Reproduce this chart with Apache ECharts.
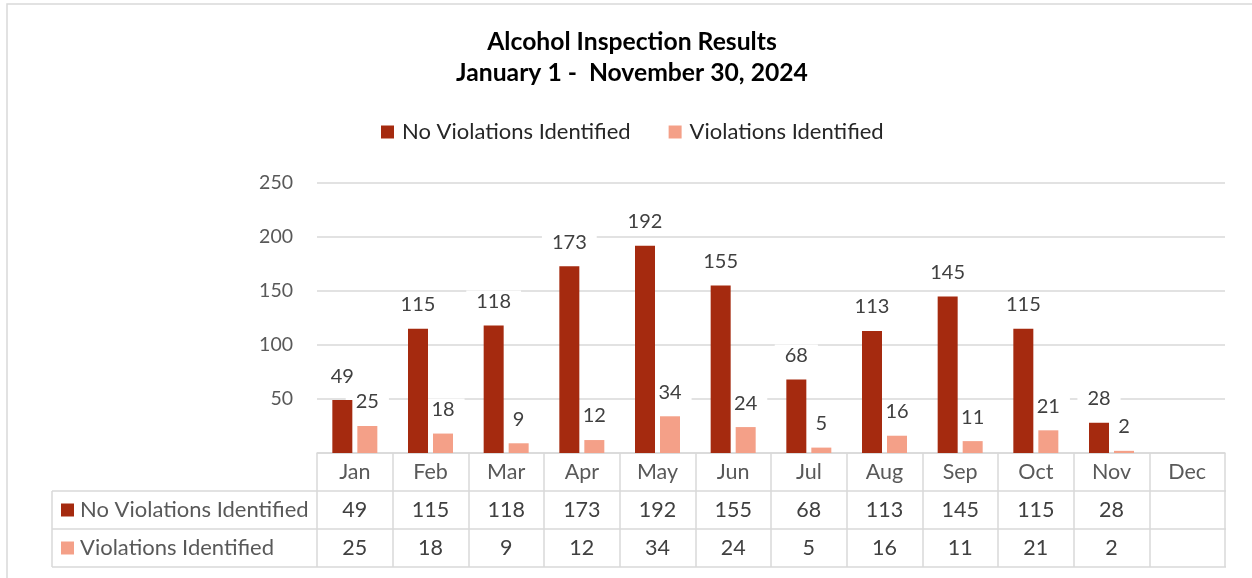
<!DOCTYPE html>
<html>
<head>
<meta charset="utf-8">
<script src="https://cdn.jsdelivr.net/npm/echarts@6/dist/echarts.min.js"></script>
<style>
  html, body { margin: 0; padding: 0; background: #fff; }
  #chart { width: 1252px; height: 578px; }
</style>
</head>
<body>
<div id="chart"></div>
<script>
// 数据
const months = ['Jan', 'Feb', 'Mar', 'Apr', 'May', 'Jun', 'Jul', 'Aug', 'Sep', 'Oct', 'Nov', 'Dec'];
const noViolations = [49, 115, 118, 173, 192, 155, 68, 113, 145, 115, 28, null];
const violations = [25, 18, 9, 12, 34, 24, 5, 16, 11, 21, 2, null];
const seriesNames = ['No Violations Identified', 'Violations Identified'];
const seriesColors = ['#A52A0F', '#F4A088'];
const yTicks = { min: 0, max: 250, interval: 50 };

const FONT = 'Lato';
const GRID = { left: 317, right: 27, top: 183, bottom: 125 };
const ROW_H = 38;
const TABLE_FS = 22;
const gray = '#d9d9d9';

const rowText = arr => arr.map(v => (v == null ? '' : String(v)));

const chart = echarts.init(document.getElementById('chart'));

const barLabel = {
  show: true, position: 'top', distance: 13,
  color: '#404040', fontFamily: FONT, fontSize: 20,
  backgroundColor: '#fff', padding: [1, 10, 1, 10]
};

// 表格边框和左侧图例列
const tableTop = 578 - GRID.bottom;
const leftX = 52;
const rightX = 1252 - GRID.right + 1;
const graphics = [
  { type: 'rect', shape: { x: 7, y: 4, width: 1300, height: 700 }, style: { fill: 'none', stroke: gray, lineWidth: 1.5 }, silent: true }
];
[1, 2, 3].forEach(i => {
  graphics.push({ type: 'line', shape: { x1: leftX, y1: tableTop + i * ROW_H, x2: rightX, y2: tableTop + i * ROW_H }, style: { stroke: gray, lineWidth: 1.5 } });
});
graphics.push({ type: 'line', shape: { x1: leftX, y1: tableTop + ROW_H, x2: leftX, y2: tableTop + 3 * ROW_H }, style: { stroke: gray, lineWidth: 1.5 } });
seriesNames.forEach((name, i) => {
  const cy = tableTop + ROW_H * (i + 1.5);
  graphics.push({ type: 'rect', shape: { x: 61, y: cy - 6.5, width: 13, height: 13 }, style: { fill: seriesColors[i] } });
  graphics.push({ type: 'text', x: 80, y: cy, style: { text: name, fill: '#595959', font: `${TABLE_FS}px ${FONT}`, textVerticalAlign: 'middle' } });
});

const rowAxis = (data, offset, color) => ({
  type: 'category', data, position: 'bottom', offset,
  axisLine: { show: offset === 0, lineStyle: { color: gray, width: 1.5 } },
  axisTick: { show: offset === 0, interval: 0, length: ROW_H * 3, lineStyle: { color: gray, width: 1.5 } },
  axisLabel: { interval: 0, color, fontSize: 21.5, fontFamily: FONT, margin: 8 }
});

chart.setOption({
  backgroundColor: '#fff',
  animation: false,
  textStyle: { fontFamily: FONT },
  title: {
    text: 'Alcohol Inspection Results\nJanuary 1 -  November 30, 2024',
    left: 627, textAlign: 'center', top: 22,
    textStyle: { fontFamily: FONT, fontSize: 24.7, fontWeight: 'bold', color: '#000', lineHeight: 31 }
  },
  legend: {
    data: seriesNames, top: 116, left: 376,
    itemWidth: 13, itemHeight: 13, itemGap: 38, icon: 'rect',
    textStyle: { fontFamily: FONT, fontSize: 22, color: '#262626', padding: [0, 0, 0, 3] }
  },
  grid: GRID,
  xAxis: [
    rowAxis(months, 0, '#595959'),
    rowAxis(rowText(noViolations), ROW_H, '#404040'),
    rowAxis(rowText(violations), ROW_H * 2, '#404040')
  ],
  yAxis: {
    type: 'value', min: yTicks.min, max: yTicks.max, interval: yTicks.interval,
    axisLine: { show: false }, axisTick: { show: false },
    axisLabel: { color: '#595959', fontSize: 19.5, fontFamily: FONT, margin: 24, formatter: v => (v === 0 ? '' : v) },
    splitLine: { lineStyle: { color: gray, width: 1.5 } }
  },
  series: seriesNames.map((name, i) => ({
    name, type: 'bar', xAxisIndex: 0,
    data: i === 0 ? noViolations : violations,
    barWidth: 20, barGap: '25%',
    itemStyle: { color: seriesColors[i] },
    label: barLabel,
    z: i === 0 ? 5 : 3
  })),
  graphic: graphics
});
</script>
</body>
</html>
